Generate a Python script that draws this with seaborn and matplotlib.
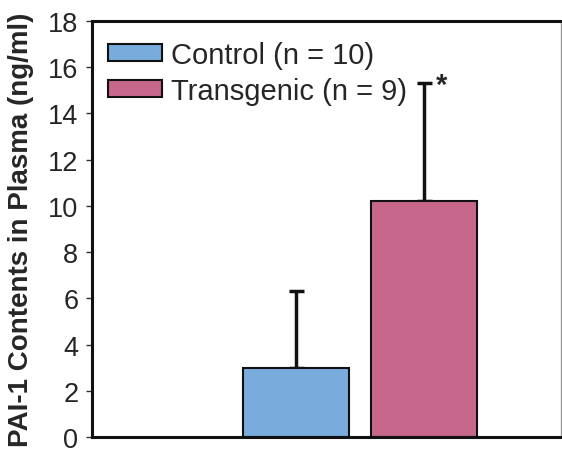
import matplotlib
matplotlib.use("Agg")
import matplotlib.pyplot as plt
import seaborn as sns
import pandas as pd

# values
groups = ["Control (n = 10)", "Transgenic (n = 9)"]
means = [3.0, 10.2]
errors = [3.3, 5.1]
colors = ["#79ACDC", "#C8678C"]
yticks = [0, 2, 4, 6, 8, 10, 12, 14, 16, 18]

sns.set_style("white")
plt.rcParams["font.family"] = ["Liberation Sans", "DejaVu Sans"]

df = pd.DataFrame({"group": groups, "value": means})

fig = plt.figure(figsize=(5.62, 4.60), dpi=100)
ax = fig.add_axes([0.164, 0.048, 0.834, 0.904])

sns.barplot(data=df, x="group", y="value", hue="group", palette=colors,
            saturation=1, width=0.83, edgecolor="#111111", linewidth=1.5,
            errorbar=None, legend=False, ax=ax, zorder=2)

# one-sided (upper) error bars, lower cap hidden behind the bars
ax.errorbar(range(len(groups)), means, yerr=[[0] * len(errors), errors],
            fmt="none", ecolor="#111111", elinewidth=2.5, capsize=5.4,
            capthick=2.5, zorder=1)

ax.text(1.09, means[1] + errors[1] - 0.05, "*", fontsize=21, fontweight="bold",
        ha="left", va="center")

ax.set_xlim(-1.59, 2.07)
ax.set_ylim(0, 18)
ax.set_yticks(yticks)
ax.set_xticks([])
ax.set_xlabel("")
ax.set_ylabel("PAI-1 Contents in Plasma (ng/ml)", fontsize=20,
              fontweight="bold")
ax.yaxis.set_label_coords(-0.124, 0.5)
ax.tick_params(axis="y", left=True, direction="out", length=4, width=1,
               labelsize=19.5, pad=6, color="#333333")

for side, sp in ax.spines.items():
    sp.set_color("#111111")
    sp.set_linewidth(2.2)
ax.spines["right"].set_linewidth(1)
ax.spines["right"].set_color("#999999")

handles = [plt.Rectangle((0, 0), 1, 1, facecolor=c, edgecolor="#111111",
                         linewidth=1.5) for c in colors]
ax.legend(handles, groups, loc="upper left", frameon=False, fontsize=21,
          handlelength=1.83, handleheight=0.52, handletextpad=0.33,
          labelspacing=0.28, borderaxespad=0.2, bbox_to_anchor=(-0.003, 0.995))

fig.savefig("out.png", dpi=100)
